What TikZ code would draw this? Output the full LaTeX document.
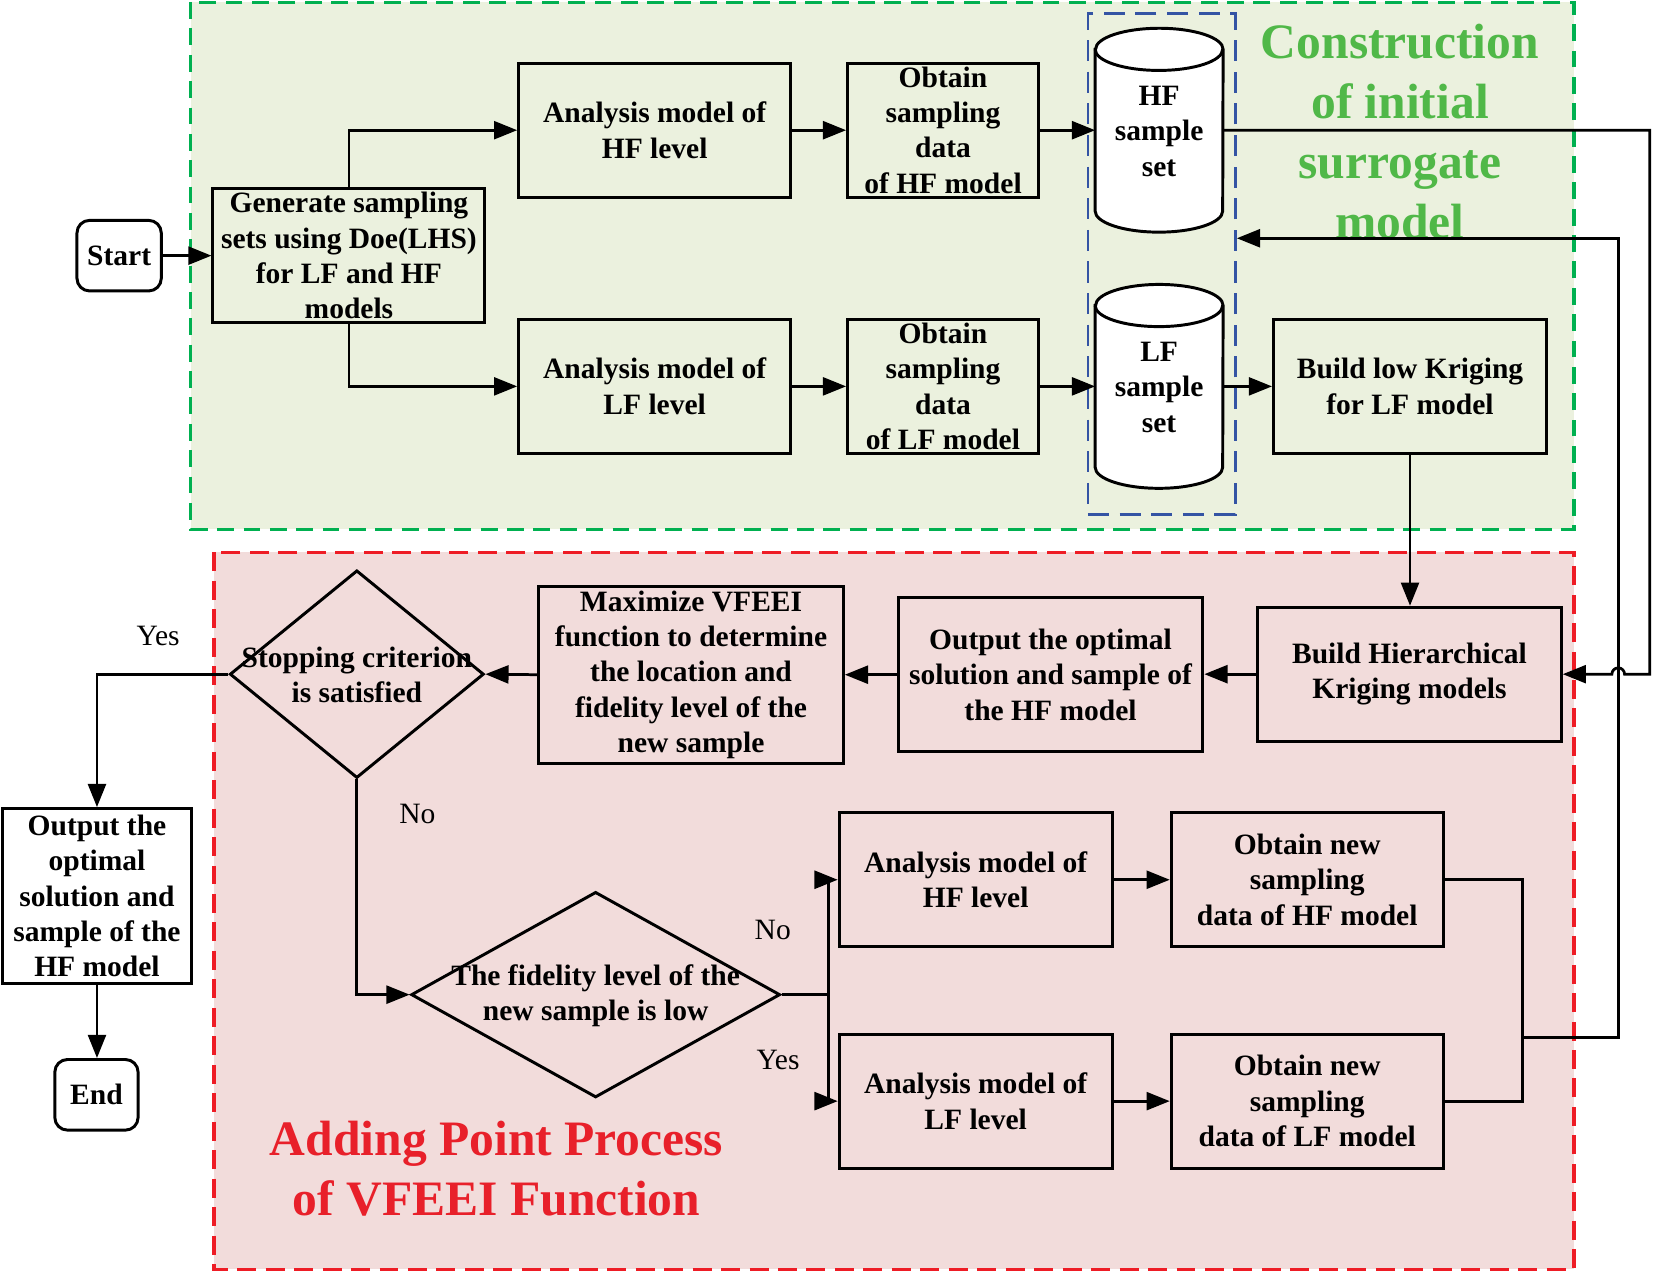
\documentclass[tikz,border=0pt]{standalone}
\usepackage{fontspec}
\setmainfont{Liberation Serif}
\usetikzlibrary{arrows.meta,shapes.geometric}
\definecolor{bggreen}{HTML}{EBF1DE}
\definecolor{bgred}{HTML}{F2DCDB}
\definecolor{frgreen}{HTML}{00B050}
\definecolor{frred}{HTML}{EE1C25}
\definecolor{frblue}{HTML}{3454A4}
\definecolor{txgreen}{HTML}{50B848}
\definecolor{txred}{HTML}{E8202A}
\begin{document}
\begin{tikzpicture}[x=1pt,y=-1pt,
  box/.style={draw, line width=2.8pt, align=center, inner sep=0pt,
    font=\bfseries\fontsize{28}{33.5}\selectfont},
  txt/.style={align=center, inner sep=0pt, font=\bfseries\fontsize{28}{33.5}\selectfont},
  rbox/.style={box, rounded corners=12pt, fill=white},
  dia/.style={draw, line width=2.8pt, shape=diamond, inner sep=0pt},
  arr/.style={line width=2.6pt, -{Triangle[length=22pt,width=17pt]}},
  ln/.style={line width=2.6pt},
  lbl/.style={inner sep=0pt, font=\fontsize{28}{33.5}\selectfont},
  title/.style={align=center, inner sep=0pt, font=\bfseries\fontsize{47}{57}\selectfont},
]
\useasboundingbox (0,0) rectangle (1568,1205.6);
% frames
\fill[bggreen] (181,2) rectangle (1493,502);
\draw[frgreen, line width=3pt, dash pattern=on 16pt off 9pt] (181,2) rectangle (1493,502);
\fill[bgred] (203,524) rectangle (1493,1204);
\draw[frred, line width=3pt, dash pattern=on 18pt off 9pt] (203,524) rectangle (1493,1204);

% titles
\node[title, text=txgreen] (ttl1) at (1328,124.5) {Construction\\of initial\\surrogate\\model};
\node[title, text=txred] (ttl2) at (471,1109) {Adding Point Process\\of VFEEI Function};

% nodes
\node[rbox, minimum width=80pt, minimum height=67pt] (start) at (113,242.5) {Start};
\node[box, minimum width=258pt, minimum height=127pt] (gen) at (331,242.5) {Generate sampling\\sets using Doe(LHS)\\for LF and HF\\models};
\node[box, minimum width=258pt, minimum height=127pt] (ahf) at (621,123.5) {Analysis model of\\HF level};
\node[box, minimum width=258pt, minimum height=127pt] (alf) at (621,366.5) {Analysis model of\\LF level};
\node[box, minimum width=181pt, minimum height=127pt] (ohf) at (894.5,123.5) {Obtain\\sampling\\data\\of HF model};
\node[box, minimum width=181pt, minimum height=127pt] (olf) at (894.5,366.5) {Obtain\\sampling\\data\\of LF model};

% cylinders
\node[inner sep=0pt, minimum width=121pt, minimum height=193pt] (hfs) at (1099.5,123.5) {};
\node[inner sep=0pt, minimum width=121pt, minimum height=193pt] (lfs) at (1099.5,366.5) {};
\foreach \c in {hfs,lfs}{
  \draw[line width=2.8pt, fill=white] ([yshift=-20pt]\c.north west) -- ([yshift=20pt]\c.south west)
     arc[start angle=180,end angle=360,x radius=60.5pt,y radius=20pt]
     -- ([yshift=-20pt]\c.north east)
     arc[start angle=0,end angle=180,x radius=60.5pt,y radius=20pt] -- cycle;
  \draw[line width=2.8pt] ([yshift=-20pt]\c.north west) arc[start angle=180,end angle=360,x radius=60.5pt,y radius=20pt];
}
\node[txt] (hfst) at (1099.5,124.5) {HF\\sample\\set};
\node[txt] (lfst) at (1099.5,367.5) {LF\\sample\\set};
\node[draw=frblue, line width=2.5pt, dash pattern=on 20pt off 10pt, inner sep=0pt,
      minimum width=140pt, minimum height=475pt] (sets) at (1102,250.5) {};

\node[box, minimum width=259pt, minimum height=127pt] (blk) at (1337.5,366.5) {Build low Kriging\\for LF model};
\node[box, minimum width=288pt, minimum height=127pt] (bhk) at (1337,639.5) {Build Hierarchical\\Kriging models};
\node[box, minimum width=289pt, minimum height=146pt] (oopt) at (996.5,640) {Output the optimal\\solution and sample of\\the HF model};
\node[box, minimum width=289pt, minimum height=168pt] (maxv) at (655.5,640) {Maximize VFEEI\\function to determine\\the location and\\fidelity level of the\\new sample};
\node[dia, minimum width=241pt, minimum height=197pt] (stop) at (338.5,639.5) {};
\node[txt] (stopt) at (338.5,640.5) {Stopping criterion\\is satisfied};
\node[box, fill=white, minimum width=180pt, minimum height=166pt] (out) at (92,850) {Output the\\optimal\\solution and\\sample of the\\HF model};
\node[rbox, minimum width=79pt, minimum height=67pt] (endn) at (91.5,1038.5) {End};
\node[dia, minimum width=350pt, minimum height=195pt] (fid) at (565,943.5) {};
\node[txt] (fidt) at (565,944.5) {The fidelity level of the\\new sample is low};
\node[box, minimum width=259pt, minimum height=127pt] (ahf2) at (925.5,834.5) {Analysis model of\\HF level};
\node[box, minimum width=258pt, minimum height=127pt] (ohf2) at (1240,834.5) {Obtain new\\sampling\\data of HF model};
\node[box, minimum width=259pt, minimum height=127pt] (alf2) at (925.5,1044.5) {Analysis model of\\LF level};
\node[box, minimum width=258pt, minimum height=127pt] (olf2) at (1240,1044.5) {Obtain new\\sampling\\data of LF model};

% labels
\node[lbl] (y1) at (150,603) {Yes};
\node[lbl] (n1) at (396,772) {No};
\node[lbl] (n2) at (733,882) {No};
\node[lbl] (y2) at (738,1005) {Yes};

% coordinates
\coordinate (fb) at (786,943.5);
\coordinate (jx) at (1444,984);
\coordinate (r1) at (1535,984);
\coordinate (r2) at (1535,226);
\coordinate (c1) at (1565,123.5);
\coordinate (c2) at (1565,639.5);
\coordinate (h1) at (1541,639.5);

% connectors
\draw[arr] (start) -- (gen);
\draw[arr] (gen.north) |- (ahf.west);
\draw[arr] (gen.south) |- (alf.west);
\draw[arr] (ahf) -- (ohf);
\draw[arr] (alf) -- (olf);
\draw[arr] (ohf.east) -- (hfs.west);
\draw[arr] (olf.east) -- (lfs.west);
\draw[arr] (lfs.east) -- (blk.west);
\draw[arr] (blk.south) -- (blk.south |- bhk.north);
\draw[arr] (bhk.west) -- (oopt.east |- bhk.west);
\draw[arr] (oopt.west) -- (maxv.east);
\draw[arr] (maxv.west) -- (stop.east);
\draw[arr] (stop.west) -| (out.north);
\draw[arr] (out.south) -- (out.south |- endn.north);
\draw[arr] (stop.south) |- (fid.west);
\draw[ln] (fid.east) -- (fb);
\draw[arr] (fb) |- (ahf2.west);
\draw[arr] (fb) |- (alf2.west);
\draw[arr] (ahf2) -- (ohf2);
\draw[arr] (alf2) -- (olf2);
\draw[ln] (ohf2.east) -- (jx |- ohf2.east) -- (jx |- olf2.east) -- (olf2.east);
\draw[arr] (jx) -- (r1) -- (r2) -- (sets.east |- r2);
\draw[arr] (hfs.east) -- (c1) -- (c2) -- (h1) arc[start angle=0,end angle=180,radius=6pt] -- (bhk.east);
\end{tikzpicture}
\end{document}
